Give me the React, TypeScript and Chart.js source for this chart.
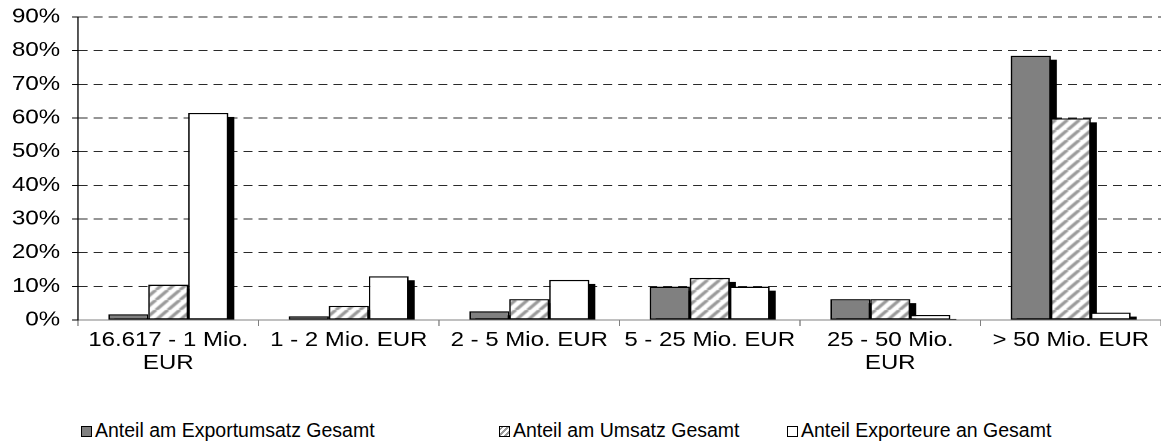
import React, { useEffect, useRef } from "react";
import { Chart, registerables } from "chart.js";

Chart.register(...registerables);

// ---- data ----
const categories: (string | string[])[] = [
  ["16.617 - 1 Mio.", "EUR"],
  "1 - 2 Mio. EUR",
  "2 - 5 Mio. EUR",
  "5 - 25 Mio. EUR",
  ["25 - 50 Mio.", "EUR"],
  "> 50 Mio. EUR",
];
const seriesNames = [
  "Anteil am Exportumsatz Gesamt",
  "Anteil am Umsatz Gesamt",
  "Anteil Exporteure an Gesamt",
];
const anteilExportumsatz = [1.7, 1.1, 2.6, 9.9, 6.2, 78.5];
const anteilUmsatz = [10.5, 4.2, 6.2, 12.5, 6.2, 59.9];
const anteilExporteure = [61.5, 13.0, 11.9, 9.9, 1.5, 2.2];
const yMin = 0;
const yMax = 90;
const yStep = 10;

const FONT = "Arial, 'Liberation Sans', sans-serif";
const HATCH_CSS =
  "repeating-linear-gradient(-45deg, #fff 0px, #fff 2px, #999 2px, #999 4px)";

// the reference chart is horizontally stretched; draw at a narrower logical width and stretch via CSS
const DISPLAY_W = 1161;
const LOGICAL_W = 968;
const K = DISPLAY_W / LOGICAL_W;

function makeHatch(): CanvasPattern | string {
  const c = document.createElement("canvas");
  const s = 10;
  c.width = s;
  c.height = s;
  const g = c.getContext("2d");
  if (!g) return "#bbb";
  g.fillStyle = "#fff";
  g.fillRect(0, 0, s, s);
  g.strokeStyle = "#9a9a9a";
  g.lineWidth = 3;
  g.beginPath();
  for (const o of [-s, 0, s]) {
    g.moveTo(o, s);
    g.lineTo(o + s, 0);
  }
  g.stroke();
  return g.createPattern(c, "repeat") || "#bbb";
}

const shadowPlugin = {
  id: "barShadow",
  beforeDatasetsDraw(chart: any) {
    const ctx = chart.ctx;
    ctx.save();
    ctx.fillStyle = "#000";
    chart.data.datasets.forEach((_: any, i: number) => {
      const meta = chart.getDatasetMeta(i);
      meta.data.forEach((bar: any) => {
        const { x, y, base, width } = bar.getProps(["x", "y", "base", "width"], true);
        const top = y + 4;
        if (base - top > 0) ctx.fillRect(x - width / 2 + 5, top, width, base - top);
      });
    });
    ctx.restore();
  },
};

export default function App() {
  const ref = useRef<HTMLCanvasElement | null>(null);

  useEffect(() => {
    if (!ref.current) return;
    const hatch = makeHatch();
    const fills = ["#808080", hatch, "#ffffff"];
    const values = [anteilExportumsatz, anteilUmsatz, anteilExporteure];
    const tickFont = { family: FONT, size: 20, lineHeight: 1.15 };
    const chart = new Chart(ref.current, {
      type: "bar",
      data: {
        labels: categories,
        datasets: seriesNames.map((name, i) => ({
          label: name,
          data: values[i],
          backgroundColor: fills[i] as any,
          borderColor: "#000",
          borderWidth: 1.3,
          borderSkipped: false,
          categoryPercentage: 0.665,
          barPercentage: 1,
        })),
      },
      options: {
        responsive: false,
        animation: false,
        devicePixelRatio: 2,
        layout: { padding: { top: 17, left: 0, right: 0, bottom: 0 } },
        plugins: { legend: { display: false }, tooltip: { enabled: false } },
        scales: {
          x: {
            grid: {
              display: true,
              drawOnChartArea: false,
              drawTicks: true,
              tickLength: 6,
              tickColor: "#808080",
              offset: true,
            },
            border: { display: true, color: "#808080", width: 1 },
            ticks: {
              color: "#000",
              font: tickFont,
              padding: 3,
              maxRotation: 0,
              minRotation: 0,
              autoSkip: false,
            },
            afterFit: (s: any) => {
              s.height = 80;
            },
          },
          y: {
            min: yMin,
            max: yMax,
            grid: {
              color: (c: any) => (c.tick && c.tick.value === 0 ? "rgba(0,0,0,0)" : "#2a2a2a"),
              lineWidth: 1,
              drawTicks: true,
              tickLength: 5,
              tickColor: "#000",
              tickBorderDash: [],
            },
            border: { display: true, color: "#000", width: 1, dash: [7.5, 5] },
            ticks: {
              stepSize: yStep,
              autoSkip: false,
              color: "#000",
              font: tickFont,
              padding: 10,
              callback: (v: any) => `${v}%`,
            },
            afterFit: (s: any) => {
              s.width = 78 / K;
              s.paddingTop = 0;
              s.paddingBottom = 0;
            },
          },
        },
      },
      plugins: [shadowPlugin],
    });
    return () => chart.destroy();
  }, []);

  const legendLeft = [81, 499, 787];
  const legendFill = ["#808080", HATCH_CSS, "#ffffff"];

  return (
    <div
      style={{
        position: "absolute",
        left: 0,
        top: 0,
        width: DISPLAY_W,
        height: 445,
        background: "#fff",
        overflow: "hidden",
      }}
    >
      <canvas
        ref={ref}
        width={LOGICAL_W}
        height={400}
        style={{ display: "block", width: DISPLAY_W, height: 400 }}
      />
      {seriesNames.map((name, i) => (
        <div
          key={name}
          style={{
            position: "absolute",
            left: legendLeft[i],
            top: 419,
            height: 22,
            display: "flex",
            alignItems: "center",
            fontFamily: FONT,
            fontSize: 19.5,
            lineHeight: "22px",
            color: "#000",
            whiteSpace: "nowrap",
          }}
        >
          <span
            style={{
              display: "inline-block",
              width: 11,
              height: 11,
              boxSizing: "border-box",
              border: "1px solid #000",
              background: legendFill[i],
              position: "relative",
              top: 1,
            }}
          />
          <span style={{ marginLeft: 3 }}>{name}</span>
        </div>
      ))}
    </div>
  );
}
